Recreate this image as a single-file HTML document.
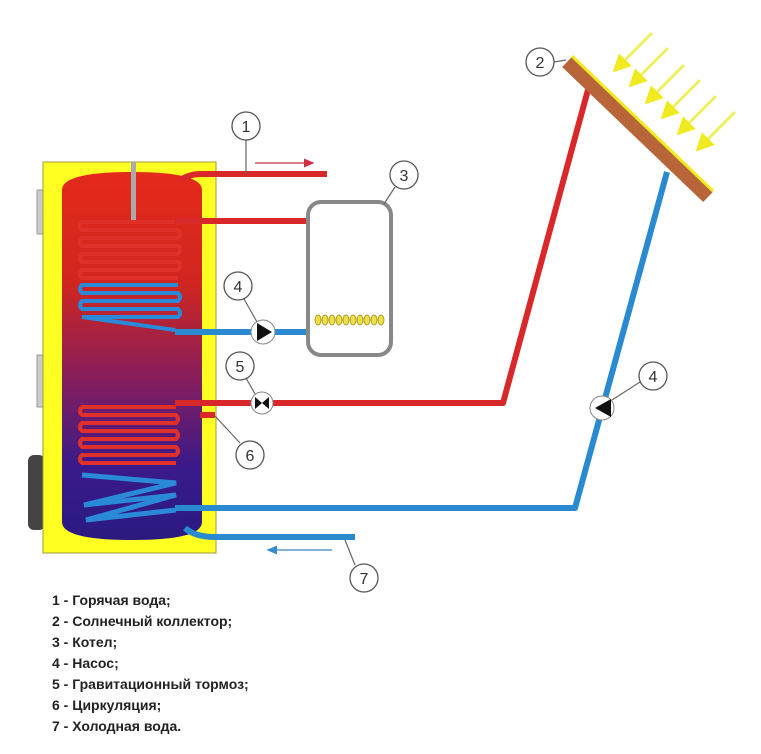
<!DOCTYPE html>
<html><head><meta charset="utf-8"><style>
body{margin:0;background:#fff;width:761px;height:754px;overflow:hidden}
.l{position:absolute;left:52px;font:bold 14px "Liberation Sans",sans-serif;color:#222}
</style></head><body>
<svg width="761" height="754" style="position:absolute;left:0;top:0">
<defs>
<linearGradient id="g" x1="0" y1="0" x2="0" y2="1">
<stop offset="0" stop-color="#e42a1a"/><stop offset="0.3" stop-color="#d0261f"/>
<stop offset="0.55" stop-color="#8a1e5a"/><stop offset="0.8" stop-color="#3a1a8a"/><stop offset="1" stop-color="#2a1a80"/></linearGradient>
<marker id="ar" markerWidth="8" markerHeight="8" refX="6" refY="4" orient="auto"><path d="M0,1 L7,4 L0,7Z" fill="#d03040"/></marker>
<marker id="ab" markerWidth="8" markerHeight="8" refX="6" refY="4" orient="auto"><path d="M0,1 L7,4 L0,7Z" fill="#3a8ad0"/></marker>
<marker id="ay" markerWidth="6" markerHeight="6" refX="3" refY="3" orient="auto"><path d="M0,0 L6,3 L0,6Z" fill="#f0ea20"/></marker>
</defs>
<rect x="37" y="190" width="8" height="44" fill="#ccc" stroke="#999"/>
<rect x="37" y="355" width="8" height="52" fill="#ccc" stroke="#999"/>
<rect x="28" y="455" width="17" height="75" rx="6" fill="#444"/>
<rect x="43" y="162" width="173" height="391" fill="#ffff22" stroke="#a09a40"/>
<path d="M62,190 Q62,172 132,172 Q202,172 202,190 V522 Q202,540 132,540 Q62,540 62,522Z" fill="url(#g)"/>
<rect x="131" y="162" width="5" height="62" fill="#aaa"/>
<g fill="none" stroke-width="4">
<path d="M178,222 H82 Q78,226 82,230 H178 Q182,234 178,238 H82 Q78,242 82,246 H178 Q182,250 178,254 H82 Q78,258 82,262 H178 Q182,266 178,270 H82 Q78,274 82,278 H178" stroke="#e0302a"/>
<path d="M178,285 H82 Q78,289 82,293 H178 Q182,297 178,301 H82 Q78,305 82,309 H178 Q182,313 178,317 H82 L175,330" stroke="#2a8ad8"/>
<path d="M176,407 H82 Q78,411 82,415 H176 Q180,419 176,423 H82 Q78,427 82,431 H176 Q180,435 176,439 H82 Q78,443 82,447 H176 Q180,451 176,455 H82 Q78,459 82,463 H176" stroke="#e0302a"/>
<path d="M82,475 L176,483 L84,505 L176,495 L86,520 L176,510" stroke="#2a8ad8" stroke-width="5"/>
</g>
<g fill="none" stroke-width="6" stroke-linejoin="round">
<path d="M180,180 Q190,174 200,174 H327" stroke="#d8282a"/>
<path d="M175,221 H308" stroke="#d8282a"/>
<path d="M175,332 H308" stroke="#2a8ad0"/>
<path d="M175,403 H503 L592,75" stroke="#d8282a"/>
<path d="M200,415 H215" stroke="#d8282a"/>
<path d="M175,508 H575 L667,172" stroke="#2a8ad0"/>
<path d="M185,528 Q195,537 215,537 H355" stroke="#2a8ad0"/>
</g>
<line x1="255" y1="163" x2="313" y2="163" stroke="#d05060" stroke-width="1.5" marker-end="url(#ar)"/>
<line x1="332" y1="550" x2="268" y2="550" stroke="#5a9ad0" stroke-width="1.5" marker-end="url(#ab)"/>
<rect x="308" y="202" width="83" height="153" rx="13" fill="#fff" stroke="#888" stroke-width="4"/>
<g fill="#eee040" stroke="#a09020" stroke-width="0.8">
<ellipse cx="318" cy="320" rx="3" ry="5"/><ellipse cx="325" cy="320" rx="3" ry="5"/><ellipse cx="332" cy="320" rx="3" ry="5"/><ellipse cx="339" cy="320" rx="3" ry="5"/><ellipse cx="346" cy="320" rx="3" ry="5"/><ellipse cx="353" cy="320" rx="3" ry="5"/><ellipse cx="360" cy="320" rx="3" ry="5"/><ellipse cx="367" cy="320" rx="3" ry="5"/><ellipse cx="374" cy="320" rx="3" ry="5"/><ellipse cx="381" cy="320" rx="3" ry="5"/></g>
<circle cx="263" cy="332" r="12" fill="#fff" stroke="#888"/><path d="M257,323 L272,332 L257,341Z" fill="#111"/>
<circle cx="262" cy="403" r="11" fill="#fff" stroke="#888"/><path d="M255,397 L262,403 L255,409Z M269,397 L262,403 L269,409Z" fill="#111"/>
<circle cx="602" cy="408" r="12" fill="#fff" stroke="#888"/><path d="M611,399 L595,408 L611,417Z" fill="#111"/>
<line x1="567" y1="62" x2="708" y2="197" stroke="#b8653a" stroke-width="14"/>
<line x1="572" y1="56" x2="713" y2="191" stroke="#f0ea20" stroke-width="3"/>
<g stroke="#eef060" stroke-width="3" marker-end="url(#ay)">
<line x1="652" y1="33" x2="619" y2="66"/><line x1="668" y1="48" x2="635" y2="81"/>
<line x1="684" y1="65" x2="651" y2="98"/><line x1="700" y1="80" x2="667" y2="113"/>
<line x1="716" y1="96" x2="683" y2="129"/><line x1="735" y1="112" x2="702" y2="145"/>
</g>
<g stroke="#666" fill="none" stroke-width="1.2">
<line x1="246" y1="140" x2="246" y2="174"/><line x1="395" y1="187" x2="384" y2="204"/>
<line x1="244" y1="299" x2="257" y2="322"/><line x1="246" y1="378" x2="255" y2="394"/>
<line x1="240" y1="443" x2="215" y2="416"/><line x1="355" y1="565" x2="345" y2="540"/>
<line x1="554" y1="62" x2="566" y2="60"/><line x1="640" y1="382" x2="612" y2="400"/>
</g>
<g fill="#fff" stroke="#555" stroke-width="1.3">
<circle cx="246" cy="126" r="14"/><circle cx="404" cy="175" r="14"/><circle cx="238" cy="286" r="14"/>
<circle cx="240" cy="366" r="14"/><circle cx="250" cy="455" r="14"/><circle cx="364" cy="578" r="14"/>
<circle cx="540" cy="62" r="14"/><circle cx="653" cy="376" r="14"/></g>
<g font-family="Liberation Sans,sans-serif" font-size="16" fill="#333" text-anchor="middle">
<text x="246" y="132">1</text><text x="404" y="181">3</text><text x="238" y="292">4</text>
<text x="240" y="372">5</text><text x="250" y="461">6</text><text x="364" y="584">7</text>
<text x="540" y="68">2</text><text x="653" y="382">4</text></g>
</svg>
<div class="l" style="top:592px">1 - Горячая вода;</div>
<div class="l" style="top:613px">2 - Солнечный коллектор;</div>
<div class="l" style="top:634px">3 - Котел;</div>
<div class="l" style="top:655px">4 - Насос;</div>
<div class="l" style="top:676px">5 - Гравитационный тормоз;</div>
<div class="l" style="top:697px">6 - Циркуляция;</div>
<div class="l" style="top:718px">7 - Холодная вода.</div>
</body></html>
